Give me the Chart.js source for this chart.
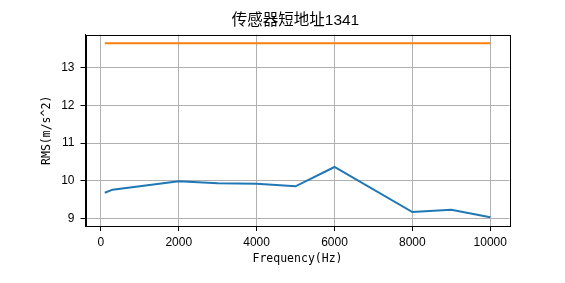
<!DOCTYPE html>
<html>
<head>
<meta charset="utf-8">
<script src="https://cdn.jsdelivr.net/npm/chart.js@4/dist/chart.umd.min.js"></script>
<style>
  html, body { margin: 0; padding: 0; background: #fff; }
  canvas { display: block; }
</style>
</head>
<body>
<canvas id="c" width="565" height="283"></canvas>
<script>
// ---- data ----
const frequencies = [100, 300, 2000, 3000, 4000, 5000, 6000, 8000, 9000, 10000];
const rmsValues   = [9.69, 9.77, 9.99, 9.94, 9.93, 9.86, 10.37, 9.18, 9.24, 9.04];
const limitFreqs  = [100, 10000];
const limitValues = [13.64, 13.64];
const xTickValues = [0, 2000, 4000, 6000, 8000, 10000];
const yTickValues = [9, 10, 11, 12, 13];
const titleText = '传感器短地址1341';
const xLabel = 'Frequency(Hz)';
const yLabel = 'RMS(m/s^2)';

const toPoints = (xs, ys) => xs.map((x, i) => ({ x: x, y: ys[i] }));

Chart.defaults.color = '#000';

const frameBorder = {
  id: 'frameBorder',
  afterDraw(chart) {
    const a = chart.chartArea;
    const ctx = chart.ctx;
    ctx.save();
    ctx.strokeStyle = '#000';
    ctx.lineWidth = 1;
    ctx.strokeRect(Math.round(a.left) + 0.5, Math.round(a.top) + 0.5,
                   Math.round(a.right) - Math.round(a.left), Math.round(a.bottom) - Math.round(a.top));
    ctx.restore();
  }
};

const tickFont = { family: "'Liberation Sans', Arial, sans-serif", size: 12 };
const labelFont = { family: "'DejaVu Sans Mono', 'Liberation Mono', monospace", size: 11.5 };

new Chart(document.getElementById('c'), {
  type: 'line',
  data: {
    datasets: [
      {
        data: toPoints(frequencies, rmsValues),
        borderColor: '#1f77b4',
        borderWidth: 2,
        pointRadius: 0,
        tension: 0,
        fill: false
      },
      {
        data: toPoints(limitFreqs, limitValues),
        borderColor: '#ff7f0e',
        borderWidth: 2,
        pointRadius: 0,
        tension: 0,
        fill: false
      }
    ]
  },
  plugins: [frameBorder],
  options: {
    responsive: false,
    devicePixelRatio: 1,
    animation: false,
    layout: { padding: { left: 26, right: 0, top: 0, bottom: 0 } },
    plugins: {
      legend: { display: false },
      tooltip: { enabled: false },
      title: {
        display: true,
        text: titleText,
        color: '#000',
        font: { family: "'Liberation Sans', 'Noto Sans CJK SC', sans-serif", size: 15.5, weight: 'normal' },
        padding: { top: 11, bottom: 5 }
      }
    },
    scales: {
      x: {
        type: 'linear',
        min: -395,
        max: 10495,
        afterBuildTicks: (s) => { s.ticks = xTickValues.map(v => ({ value: v })); },
        afterFit: (s) => { s.height = 57; },
        ticks: { font: tickFont, color: '#000', padding: 4, maxRotation: 0, autoSkip: false,
                 callback: (v) => String(v) },
        grid: { color: '#b0b0b0', lineWidth: 1, tickColor: '#000', tickLength: 5 },
        border: { display: true, color: '#000', width: 1 },
        title: { display: true, text: xLabel, font: labelFont, color: '#000', padding: { top: 0, bottom: 17 } }
      },
      y: {
        type: 'linear',
        position: 'left',
        min: 8.81,
        max: 13.87,
        afterBuildTicks: (s) => { s.ticks = yTickValues.map(v => ({ value: v })); },
        afterFit: (s) => { s.width = 59.5; },
        ticks: { font: tickFont, color: '#000', padding: 6, autoSkip: false,
                 callback: (v) => String(v) },
        grid: { color: '#b0b0b0', lineWidth: 1, tickColor: '#000', tickLength: 5 },
        border: { display: true, color: '#000', width: 1 },
        title: { display: true, text: yLabel, font: labelFont, color: '#000', padding: { top: 14, bottom: 0 } }
      },
      spacer: {
        type: 'linear',
        position: 'right',
        display: true,
        min: 0,
        max: 1,
        afterFit: (s) => { s.width = 55.5; },
        ticks: { display: false },
        grid: { display: false, drawOnChartArea: false },
        border: { display: false }
      }
    }
  }
});
</script>
</body>
</html>
